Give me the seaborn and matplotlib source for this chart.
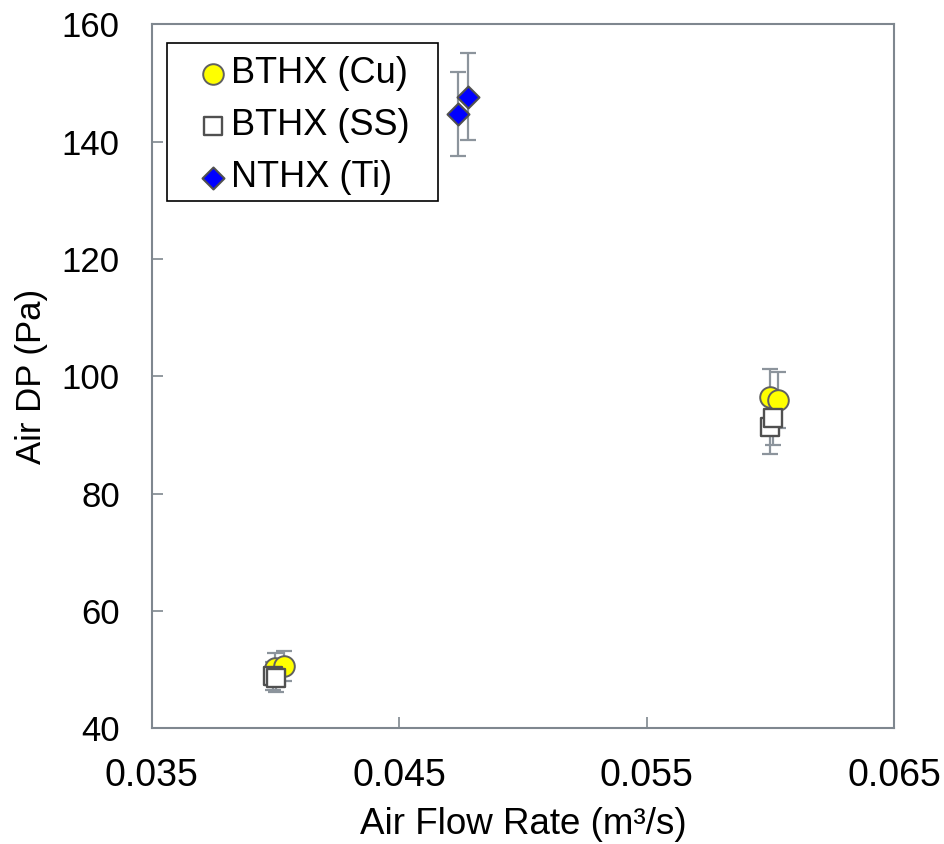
import matplotlib
matplotlib.use("Agg")
import matplotlib.pyplot as plt
from matplotlib.patches import Rectangle
import seaborn as sns
import pandas as pd

# Measured air-side pressure drop versus air flow rate
cu_flow = [0.0400, 0.04033, 0.0600, 0.06033]
cu_dp = [50.3, 50.6, 96.4, 96.0]
cu_err = [2.5, 2.5, 4.8, 4.8]

ss_flow = [0.03990, 0.04003, 0.05998, 0.06013]
ss_dp = [48.9, 48.6, 91.3, 92.9]
ss_err = [2.4, 2.4, 4.6, 4.6]

ti_flow = [0.04739, 0.04780]
ti_dp = [144.7, 147.7]
ti_err = [7.2, 7.4]

series_names = ["BTHX (Cu)", "BTHX (SS)", "NTHX (Ti)"]
x_ticks = [0.035, 0.045, 0.055, 0.065]
y_ticks = [40, 60, 80, 100, 120, 140, 160]

sns.set_theme(style="white")
plt.rcParams["font.family"] = ["Liberation Sans", "DejaVu Sans"]
plt.rcParams["text.color"] = "black"
plt.rcParams["axes.labelcolor"] = "black"

fig = plt.figure(figsize=(9.44, 8.44), dpi=100)
ax = fig.add_axes([0.1607, 0.1374, 0.7863, 0.8336])

frames = [
    pd.DataFrame({"flow": cu_flow, "dp": cu_dp, "err": cu_err, "name": series_names[0]}),
    pd.DataFrame({"flow": ss_flow, "dp": ss_dp, "err": ss_err, "name": series_names[1]}),
    pd.DataFrame({"flow": ti_flow, "dp": ti_dp, "err": ti_err, "name": series_names[2]}),
]

styles = [
    dict(marker="o", s=220, color="#ffff00", edgecolor="#606060", linewidth=1.4),
    dict(marker="s", s=175, color="#ffffff", edgecolor="#505050", linewidth=1.7),
    dict(marker="D", s=125, color="#0000ff", edgecolor="#505050", linewidth=1.5),
]

err_color = "#8c949c"
for df in frames:
    ax.errorbar(df["flow"], df["dp"], yerr=df["err"], fmt="none",
                ecolor=err_color, elinewidth=1.6, capsize=5.5, capthick=1.6,
                zorder=2)

for df, st in zip(frames, styles):
    sns.scatterplot(data=df, x="flow", y="dp", ax=ax, label=df["name"].iloc[0],
                    zorder=3, **st)

ax.set_xlim(0.035, 0.065)
ax.set_ylim(40, 160)
ax.set_xticks(x_ticks)
ax.set_xticklabels([f"{t:.3f}" for t in x_ticks])
ax.set_yticks(y_ticks)
ax.tick_params(axis="both", direction="in", length=8, width=1.2,
               color="#7f878f", bottom=True, left=True, labelcolor="black")
ax.tick_params(axis="x", labelsize=27, pad=21.5)
ax.tick_params(axis="y", labelsize=25, pad=23)

for sp in ax.spines.values():
    sp.set_color("#7f878f")
    sp.set_linewidth(1.5)

ax.set_xlabel("Air Flow Rate (m³/s)", fontsize=26.5, labelpad=9.5)
ax.set_ylabel("Air DP (Pa)", fontsize=25, labelpad=10)

# Legend entries without their own frame; the box is drawn separately
leg = ax.legend(loc="upper left", bbox_to_anchor=(0.0583, 0.955), borderaxespad=0,
                fontsize=26, frameon=False, handletextpad=0.0,
                handlelength=1.0, borderpad=0.0, labelspacing=0.47,
                markerscale=1.0)
ax.add_patch(Rectangle((0.0206, 0.7491), 0.3651, 0.2246, transform=ax.transAxes,
                       fill=False, edgecolor="black", linewidth=1.2, zorder=5))

fig.savefig("out.png", dpi=100)
